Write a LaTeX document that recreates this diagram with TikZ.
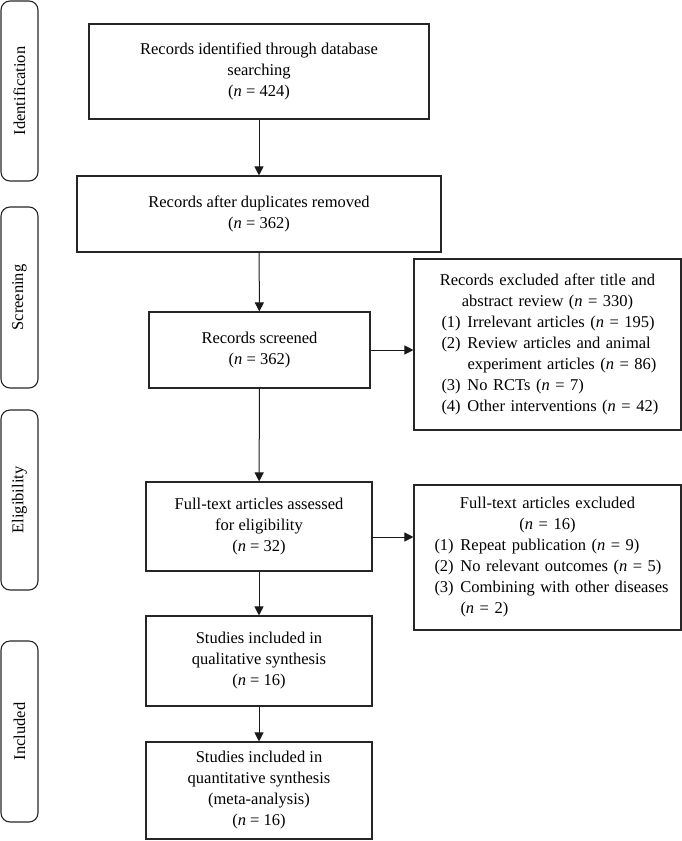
\documentclass[tikz,border=0pt]{standalone}
\usepackage{fontspec}
\setmainfont{Liberation Serif}
\usetikzlibrary{arrows.meta}

% one item of an exclusion list, label hangs to the left
\newcommand{\exitem}[3][0pt]{\par\noindent\hangindent=\dimexpr#1+26pt\relax\hangafter=1\hspace*{#1}\makebox[26pt][l]{(#2)}#3}

\tikzset{
  stage/.style={draw=black!85, line width=1.1pt, rounded corners=9pt, rotate=90,
    minimum width=#1, minimum height=37pt, inner sep=0pt},
  flowbox/.style={draw=black!85, line width=1.1pt, align=center, inner sep=0pt},
  exclbox/.style={draw=black!85, line width=1.1pt, text width=250pt, inner xsep=8.5pt,
    minimum height=#1},
  flowarrow/.style={draw=black!90, line width=1pt, -{Triangle[length=9pt,width=9pt]}}
}

\begin{document}
\begin{tikzpicture}[x=1pt, y=-1pt, font=\fontsize{16.5}{21}\selectfont]
    \useasboundingbox (0,0) rectangle (682,841);
    % stage labels on the left
    \node[stage=180pt] (ident) at (19.5,91) {Identification};
    \node[stage=181pt] (screen) at (19.5,297.5) {Screening};
    \node[stage=180pt] (elig) at (19.5,500) {Eligibility};
    \node[stage=181pt] (incl) at (19.5,731.5) {Included};

    % main column
    \node[flowbox, minimum width=340pt, minimum height=95pt] (found) at (259,71.5)
        {Records identified through database\\ searching\\ (\textit{n} = 424)};
    \node[flowbox, minimum width=364pt, minimum height=76pt] (dedup) at (259,214)
        {Records after duplicates removed\\ (\textit{n} = 362)};
    \node[flowbox, minimum width=221pt, minimum height=76pt] (screened) at (259.5,350)
        {Records screened\\ (\textit{n} = 362)};
    \node[flowbox, minimum width=226pt, minimum height=89pt] (fulltext) at (259,526.5)
        {Full-text articles assessed\\ for eligibility\\ (\textit{n} = 32)};
    \node[flowbox, minimum width=226pt, minimum height=90pt] (qual) at (259,661)
        {Studies included in\\ qualitative synthesis\\ (\textit{n} = 16)};
    \node[flowbox, minimum width=226pt, minimum height=97pt] (quant) at (259,790.5)
        {Studies included in\\ quantitative synthesis\\ (meta-analysis)\\ (\textit{n} = 16)};

    % exclusions on the right
    \node[exclbox=171pt] (excl1) at (547.5,344.5) {\parindent=0pt
        {\centering Records excluded after title and\\ abstract review (\textit{n} = 330)\par}
        \raggedright
        \exitem[19pt]{1}{Irrelevant articles (\textit{n} = 195)}
        \exitem[19pt]{2}{Review articles and animal\newline experiment articles (\textit{n} = 86)}
        \exitem[19pt]{3}{No RCTs (\textit{n} = 7)}
        \exitem[19pt]{4}{Other interventions (\textit{n} = 42)}\par};
    \node[exclbox=145pt] (excl2) at (547.5,557.5) {\parindent=0pt
        {\centering Full-text articles excluded\\ (\textit{n} = 16)\par}
        \raggedright
        \exitem[12pt]{1}{Repeat publication (\textit{n} = 9)}
        \exitem[12pt]{2}{No relevant outcomes (\textit{n} = 5)}
        \exitem[12pt]{3}{\mbox{Combining with other diseases}\newline (\textit{n} = 2)}\par};

    % connectors
    \draw[flowarrow] (found) -- (dedup);
    \draw[flowarrow] (dedup) -- (screened);
    \draw[flowarrow] (screened) -- (fulltext);
    \draw[flowarrow] (fulltext) -- (qual);
    \draw[flowarrow] (qual) -- (quant);
    \draw[flowarrow] (screened.east) -- (screened.east -| excl1.west);
    \draw[flowarrow] ([yshift=-10.5pt]fulltext.east) -- ([yshift=-10.5pt]fulltext.east -| excl2.west);
\end{tikzpicture}
\end{document}
